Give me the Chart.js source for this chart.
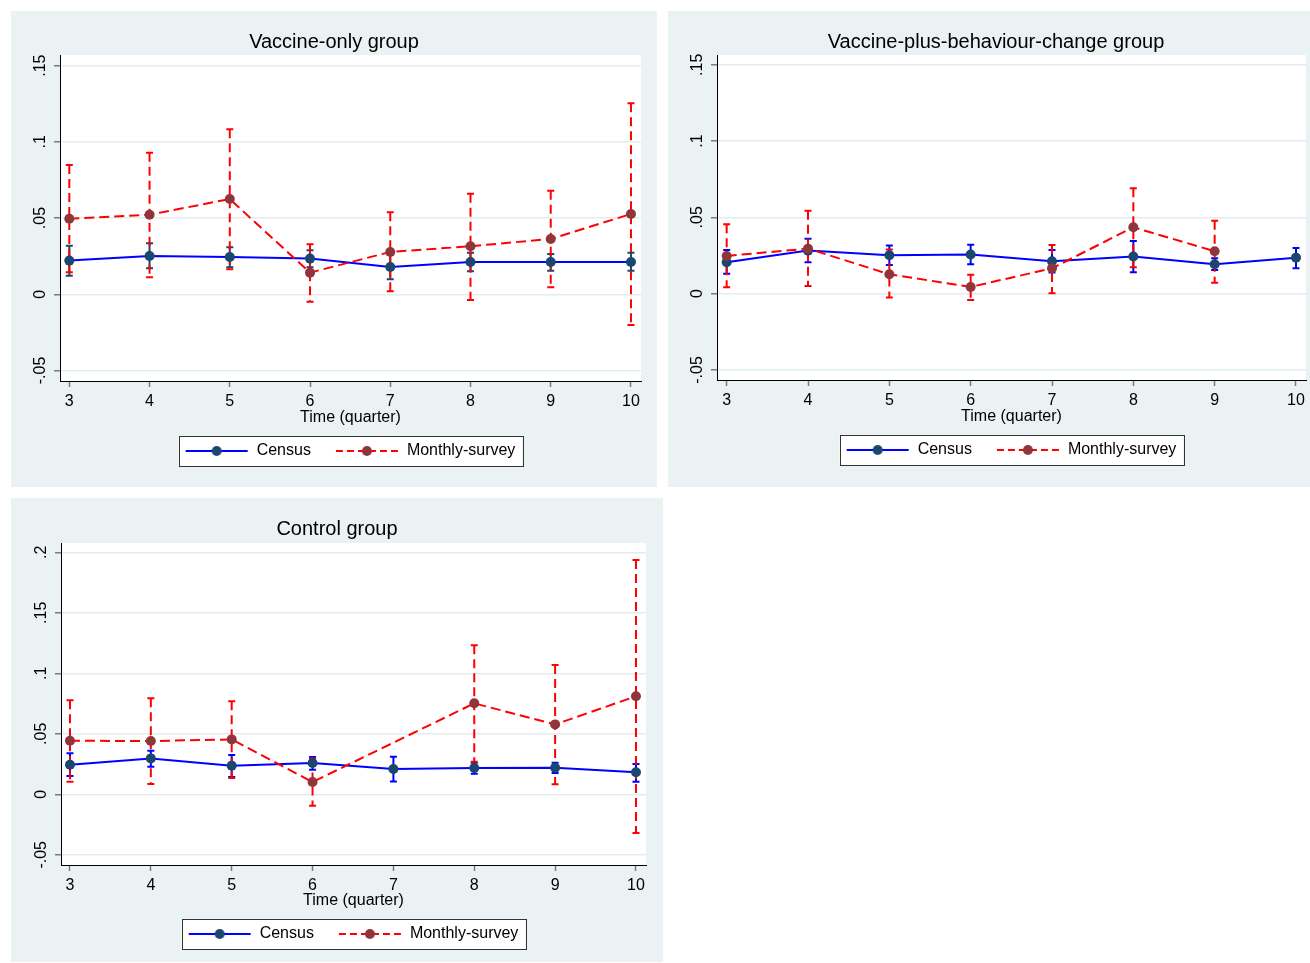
<!DOCTYPE html>
<html><head><meta charset="utf-8">
<script src="https://cdn.jsdelivr.net/npm/chart.js@4.4.1/dist/chart.umd.min.js"></script>
<style>
html,body{margin:0;padding:0;background:#fff;overflow:hidden;width:1310px;height:963px;position:relative;}
.panel{position:absolute;background:#eaf2f3;overflow:hidden;}
canvas{display:block;}
</style></head><body>
<div class="panel" style="left:11px;top:11px;width:646px;height:476px"><canvas id="c1" width="646" height="476"></canvas></div>
<div class="panel" style="left:668px;top:11px;width:656px;height:476px"><canvas id="c2" width="656" height="476"></canvas></div>
<div class="panel" style="left:11px;top:498px;width:652px;height:464px"><canvas id="c3" width="652" height="464"></canvas></div>
<script>
// ---------- data ----------
const quarters = [3, 4, 5, 6, 7, 8, 9, 10];
const xTicks = [3, 4, 5, 6, 7, 8, 9, 10];
const xTickLabels = ['3', '4', '5', '6', '7', '8', '9', '10'];
const yTicksAB = [-0.05, 0, 0.05, 0.1, 0.15];
const yTickLabelsAB = ['-.05', '0', '.05', '.1', '.15'];
const yTicksC = [-0.05, 0, 0.05, 0.1, 0.15, 0.2];
const yTickLabelsC = ['-.05', '0', '.05', '.1', '.15', '.2'];
const seriesNames = ['Census', 'Monthly-survey'];
const panelTitles = ['Vaccine-only group', 'Vaccine-plus-behaviour-change group', 'Control group'];
const xAxisTitle = 'Time (quarter)';

// Vaccine-only group
const voCensus    = [0.0221, 0.0251, 0.0245, 0.0234, 0.0179, 0.0212, 0.0212, 0.0212];
const voCensusLo  = [0.0122, 0.0171, 0.0177, 0.0177, 0.0098, 0.0151, 0.0155, 0.0155];
const voCensusHi  = [0.0319, 0.0335, 0.0308, 0.0289, 0.0260, 0.0273, 0.0264, 0.0273];
const voMonthly   = [0.0496, 0.0522, 0.0625, 0.0142, 0.0278, 0.0315, 0.0363, 0.0527];
const voMonthlyLo = [0.0144, 0.0112, 0.0164, -0.0049, 0.0020, -0.0037, 0.0046, -0.0201];
const voMonthlyHi = [0.0848, 0.0929, 0.1083, 0.0328, 0.0538, 0.0660, 0.0680, 0.1253];

// Vaccine-plus-behaviour-change group
const vbCensus    = [0.0206, 0.0282, 0.0252, 0.0256, 0.0212, 0.0243, 0.0193, 0.0236];
const vbCensusLo  = [0.0131, 0.0206, 0.0188, 0.0193, 0.0138, 0.0140, 0.0155, 0.0166];
const vbCensusHi  = [0.0286, 0.0360, 0.0315, 0.0321, 0.0286, 0.0345, 0.0232, 0.0299];
const vbMonthly   = [0.0247, 0.0295, 0.0127, 0.0044, 0.0166, 0.0435, 0.0278, null];
const vbMonthlyLo = [0.0042, 0.0050, -0.0026, -0.0041, 0.0003, 0.0173, 0.0072, null];
const vbMonthlyHi = [0.0455, 0.0544, 0.0289, 0.0123, 0.0319, 0.0690, 0.0478, null];

// Control group
const ctCensus    = [0.0245, 0.0297, 0.0237, 0.0259, 0.0209, 0.0217, 0.0220, 0.0182];
const ctCensusLo  = [0.0151, 0.0228, 0.0143, 0.0204, 0.0107, 0.0170, 0.0176, 0.0104];
const ctCensusHi  = [0.0339, 0.0360, 0.0325, 0.0308, 0.0311, 0.0261, 0.0261, 0.0250];
const ctMonthly   = [0.0443, 0.0440, 0.0454, 0.0102, null, 0.0752, 0.0578, 0.0810];
const ctMonthlyLo = [0.0104, 0.0085, 0.0135, -0.0094, null, 0.0270, 0.0083, -0.0320];
const ctMonthlyHi = [0.0777, 0.0793, 0.0769, 0.0297, null, 0.1231, 0.1069, 0.1936];

// ---------- styles ----------
const FONT = "'Liberation Sans', Arial, Helvetica, sans-serif";
Chart.defaults.font.family = FONT;
Chart.defaults.font.size = 16;
Chart.defaults.color = '#000';

const BLUE = '#0000ff', RED = '#ff0000', NAVY = '#1a476f', MAROON = '#90353b';
const GRID = '#e4ecee', TICK = '#7a7a7a';

function legendSymbol(lineColor, dotColor, dash) {
  const c = document.createElement('canvas');
  c.width = 72; c.height = 14;
  const g = c.getContext('2d');
  g.strokeStyle = lineColor; g.lineWidth = 2;
  g.setLineDash(dash);
  g.beginPath(); g.moveTo(9, 7); g.lineTo(71, 7); g.stroke();
  g.setLineDash([]);
  g.fillStyle = dotColor;
  g.beginPath(); g.arc(40, 7, 5, 0, Math.PI * 2); g.fill();
  return c;
}
const symbols = [legendSymbol(BLUE, NAVY, []), legendSymbol(RED, MAROON, [7, 4])];

const ciPlugin = {
  id: 'ciBars',
  beforeDatasetsDraw(chart) {
    const {ctx, scales: {x, y}} = chart;
    ctx.save();
    chart.data.datasets.forEach(ds => {
      if (!ds.ciLo) return;
      ctx.strokeStyle = ds.ciColor; ctx.lineWidth = 2; ctx.lineCap = 'butt';
      ds.data.forEach((pt, i) => {
        const lo = ds.ciLo[i], hi = ds.ciHi[i];
        if (lo == null || hi == null) return;
        const px = x.getPixelForValue(pt.x), pl = y.getPixelForValue(lo), ph = y.getPixelForValue(hi);
        ctx.setLineDash(ds.ciDash);
        ctx.beginPath(); ctx.moveTo(px, ph); ctx.lineTo(px, pl); ctx.stroke();
        ctx.setLineDash([]);
        ctx.beginPath();
        ctx.moveTo(px - 3.5, ph); ctx.lineTo(px + 3.5, ph);
        ctx.moveTo(px - 3.5, pl); ctx.lineTo(px + 3.5, pl);
        ctx.stroke();
      });
    });
    ctx.restore();
  }
};

const framePlugin = {
  id: 'frame',
  afterLayout(chart) {
    const lg = chart.legend;
    if (lg) { lg.left -= 4.5; lg.right -= 4.5; }
  },
  beforeDraw(chart) {
    const {ctx, chartArea: a} = chart;
    ctx.save();
    ctx.fillStyle = '#fff';
    ctx.fillRect(a.left, a.top, a.right - a.left, a.bottom - a.top);
    const hb = chart.legend && chart.legend.legendHitBoxes;
    if (hb && hb.length) {
      const first = hb[0], last = hb[hb.length - 1];
      const cy = first.top + first.height / 2;
      const l = first.left + 9 - 7, r = last.left + last.width + 7;
      ctx.fillRect(l, cy - 15, r - l, 30);
      ctx.strokeStyle = '#333'; ctx.lineWidth = 1;
      ctx.strokeRect(Math.round(l) + 0.5, Math.round(cy - 15) + 0.5, Math.round(r - l), 30);
    }
    ctx.restore();
  }
};

function makePanel(id, cfg) {
  const pts = arr => quarters.map((q, i) => ({x: q, y: arr[i]}));
  new Chart(document.getElementById(id), {
    type: 'line',
    data: {
      datasets: [
        {
          label: seriesNames[0], data: pts(cfg.census), order: 2,
          borderColor: BLUE, borderWidth: 2, pointRadius: 5, pointBorderWidth: 0,
          pointBackgroundColor: NAVY, pointBorderColor: NAVY, tension: 0,
          ciLo: cfg.censusLo, ciHi: cfg.censusHi, ciColor: cfg.censusCiColor, ciDash: []
        },
        {
          label: seriesNames[1], data: pts(cfg.monthly), order: 1,
          borderColor: RED, borderWidth: 2, borderDash: [10, 5], pointRadius: 5, pointBorderWidth: 0,
          pointBackgroundColor: MAROON, pointBorderColor: MAROON, tension: 0, spanGaps: true,
          ciLo: cfg.monthlyLo, ciHi: cfg.monthlyHi, ciColor: RED, ciDash: [9, 5]
        }
      ]
    },
    options: {
      responsive: false, animation: false, devicePixelRatio: 1,
      layout: {padding: {top: 0, left: 0, right: 0, bottom: cfg.padBottom}},
      scales: {
        x: {
          type: 'linear', position: 'bottom', min: cfg.xMin, max: cfg.xMax,
          afterBuildTicks: s => { s.ticks = xTicks.map(v => ({value: v})); },
          afterFit: s => { s.height = cfg.xHeight; },
          ticks: {autoSkip: false, maxRotation: 0, padding: cfg.xTickPad, font: {size: 16}, color: '#000',
                  callback: (v, i) => xTickLabels[i]},
          grid: {drawOnChartArea: false, drawTicks: true, tickLength: 6, tickColor: TICK, tickWidth: 1.5, color: TICK},
          border: {display: true, color: '#000', width: 1},
          title: {display: true, text: xAxisTitle, font: {size: 16}, color: '#000', padding: {top: 0, bottom: 0}}
        },
        y: {
          type: 'linear', position: 'left', min: cfg.yMin, max: cfg.yMax,
          afterBuildTicks: s => { s.ticks = cfg.yTicks.map(v => ({value: v})); },
          afterFit: s => { s.width = cfg.yWidth; },
          ticks: {minRotation: 90, maxRotation: 90, crossAlign: 'center', padding: 0, font: {size: 16}, color: '#000',
                  callback: (v, i) => cfg.yLabels[i]},
          grid: {drawOnChartArea: true, color: GRID, lineWidth: 1.5, drawTicks: true, tickLength: 6, tickColor: TICK, tickWidth: 1.5},
          border: {display: true, color: '#000', width: 1}
        },
        yR: {
          type: 'linear', position: 'right', display: true,
          ticks: {display: false}, grid: {display: false, drawTicks: false}, border: {display: false},
          afterFit: s => { s.width = cfg.rightWidth; }
        }
      },
      plugins: {
        title: {display: true, text: cfg.title, font: {size: 20, weight: 'normal'}, color: '#000',
                padding: {top: 19, bottom: cfg.titlePadBottom}},
        legend: {
          display: true, position: 'bottom', fullSize: false,
          labels: {
            usePointStyle: true, pointStyleWidth: 72, padding: 16, color: '#000', font: {size: 16},
            sort: (a, b) => a.datasetIndex - b.datasetIndex,
            generateLabels(chart) {
              const items = Chart.defaults.plugins.legend.labels.generateLabels(chart);
              items.forEach(it => { it.pointStyle = symbols[it.datasetIndex]; });
              return items;
            }
          }
        },
        tooltip: {enabled: false}
      }
    },
    plugins: [ciPlugin, framePlugin]
  });
}

makePanel('c1', {
  title: panelTitles[0],
  census: voCensus, censusLo: voCensusLo, censusHi: voCensusHi, censusCiColor: NAVY,
  monthly: voMonthly, monthlyLo: voMonthlyLo, monthlyHi: voMonthlyHi,
  xMin: 2.884, xMax: 10.125, yMin: -0.0569, yMax: 0.1570,
  yTicks: yTicksAB, yLabels: yTickLabelsAB,
  yWidth: 49, rightWidth: 16, xHeight: 46, xTickPad: 5, padBottom: 18, titlePadBottom: 1
});
makePanel('c2', {
  title: panelTitles[1],
  census: vbCensus, censusLo: vbCensusLo, censusHi: vbCensusHi, censusCiColor: BLUE,
  monthly: vbMonthly, monthlyLo: vbMonthlyLo, monthlyHi: vbMonthlyHi,
  xMin: 2.881, xMax: 10.123, yMin: -0.0566, yMax: 0.1564,
  yTicks: yTicksAB, yLabels: yTickLabelsAB,
  yWidth: 49, rightWidth: 18, xHeight: 46, xTickPad: 5, padBottom: 19, titlePadBottom: 1
});
makePanel('c3', {
  title: panelTitles[2],
  census: ctCensus, censusLo: ctCensusLo, censusHi: ctCensusHi, censusCiColor: BLUE,
  monthly: ctMonthly, monthlyLo: ctMonthlyLo, monthlyHi: ctMonthlyHi,
  xMin: 2.889, xMax: 10.124, yMin: -0.0584, yMax: 0.2077,
  yTicks: yTicksC, yLabels: yTickLabelsC,
  yWidth: 50, rightWidth: 17, xHeight: 45, xTickPad: 4.5, padBottom: 10, titlePadBottom: 2
});
</script>
</body></html>
